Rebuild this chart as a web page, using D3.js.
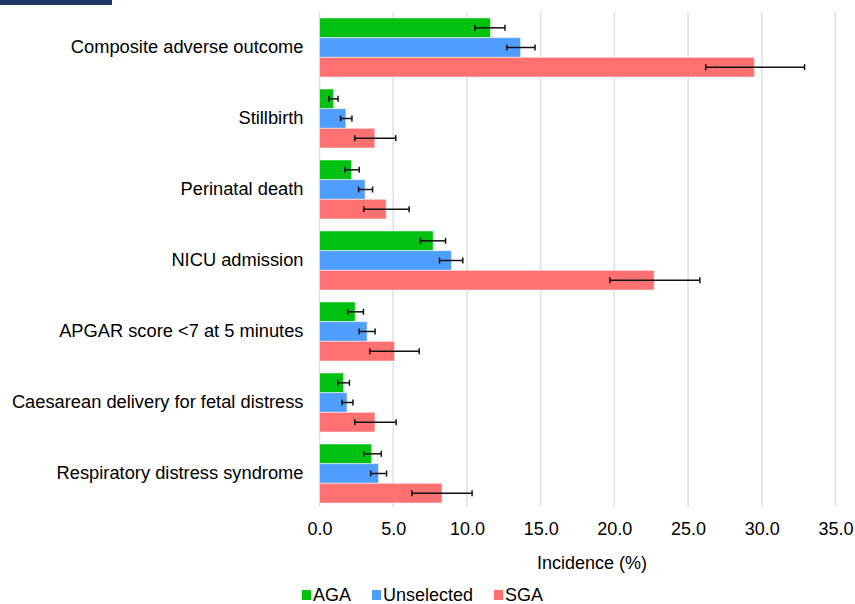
<!DOCTYPE html>
<html>
<head>
<meta charset="utf-8">
<script src="https://cdn.jsdelivr.net/npm/d3@7"></script>
<style>
    body { margin: 0; background: #fff; }
    #chart { display: block; font-family: "Liberation Sans", Arial, Helvetica, sans-serif; }
</style>
</head>
<body>
<svg id="chart"></svg>
<script>
//----------------------------//
//            DATA            //
//----------------------------//
const categories = [
    "Composite adverse outcome",
    "Stillbirth",
    "Perinatal death",
    "NICU admission",
    "APGAR score <7 at 5 minutes",
    "Caesarean delivery for fetal distress",
    "Respiratory distress syndrome"
];
const seriesNames = ["AGA", "Unselected", "SGA"];

const agaValues = [11.6, 0.95, 2.17, 7.71, 2.42, 1.63, 3.54];
const agaLow    = [10.54, 0.63, 1.72, 6.85, 1.92, 1.24, 3.0];
const agaHigh   = [12.58, 1.26, 2.69, 8.55, 2.98, 2.03, 4.19];

const unselValues = [13.64, 1.79, 3.09, 8.95, 3.23, 1.87, 4.0];
const unselLow    = [12.7, 1.43, 2.65, 8.14, 2.69, 1.53, 3.47];
const unselHigh   = [14.62, 2.2, 3.6, 9.72, 3.77, 2.27, 4.55];

const sgaValues = [29.5, 3.75, 4.52, 22.7, 5.09, 3.76, 8.31];
const sgaLow    = [26.2, 2.39, 3.0, 19.7, 3.41, 2.39, 6.27];
const sgaHigh   = [32.9, 5.17, 6.08, 25.8, 6.76, 5.2, 10.35];

const xTicks = [0, 5, 10, 15, 20, 25, 30, 35];
const colors = ["#00c010", "#4f9dff", "#ff7070"];

// --- build rows for d3 ---
const rows = categories.map((c, i) => ({
    category: c,
    bars: [
        { name: seriesNames[0], value: agaValues[i], low: agaLow[i], high: agaHigh[i] },
        { name: seriesNames[1], value: unselValues[i], low: unselLow[i], high: unselHigh[i] },
        { name: seriesNames[2], value: sgaValues[i], low: sgaLow[i], high: sgaHigh[i] }
    ]
}));

// --- Plotting Module ---
function plotChart() {
    const width = 855;
    const height = 604;
    const plot = { left: 319.5, right: 835.5, top: 12, bottom: 509 };

    const svg = d3.select('#chart')
        .attr('width', width)
        .attr('height', height);

    // small header strip in the corner
    svg.append('rect')
        .attr('x', 0).attr('y', 0)
        .attr('width', 112).attr('height', 5)
        .attr('fill', '#1f3864');

    const x = d3.scaleLinear()
        .domain([0, 35])
        .range([plot.left, plot.right]);

    const y = d3.scaleBand()
        .domain(categories)
        .range([plot.top, plot.bottom])
        .paddingInner(0.169)
        .paddingOuter(0.0845);

    const ySeries = d3.scaleBand()
        .domain(seriesNames)
        .range([0, y.bandwidth()]);

    const color = d3.scaleOrdinal().domain(seriesNames).range(colors);

    // gridlines
    svg.append('g')
        .selectAll('line')
        .data(xTicks)
        .enter()
        .append('line')
        .attr('x1', d => x(d)).attr('x2', d => x(d))
        .attr('y1', plot.top).attr('y2', plot.bottom - 2)
        .attr('stroke', '#e0e0e0')
        .attr('stroke-width', 1.5);

    // x axis labels
    const xAxis = svg.append('g')
        .attr('transform', `translate(0,${plot.bottom - 2})`)
        .call(d3.axisBottom(x).tickValues(xTicks).tickFormat(d3.format('.1f')).tickSize(0).tickPadding(15));
    xAxis.select('.domain').remove();
    xAxis.selectAll('text')
        .attr('fill', '#000')
        .style('font-size', '18px')
        .style('font-family', '"Liberation Sans", Arial, sans-serif');

    // y axis labels
    const yAxis = svg.append('g')
        .attr('transform', `translate(${plot.left - 16},0)`)
        .call(d3.axisLeft(y).tickSize(0).tickPadding(0));
    yAxis.select('.domain').remove();
    yAxis.selectAll('text')
        .attr('fill', '#000')
        .style('font-size', '18.3px')
        .style('font-family', '"Liberation Sans", Arial, sans-serif');

    // bars
    const groups = svg.append('g')
        .selectAll('g')
        .data(rows)
        .enter()
        .append('g')
        .attr('transform', d => `translate(0,${y(d.category)})`);

    groups.selectAll('rect')
        .data(d => d.bars)
        .enter()
        .append('rect')
        .attr('x', x(0))
        .attr('y', d => ySeries(d.name))
        .attr('width', d => x(d.value) - x(0))
        .attr('height', ySeries.bandwidth())
        .attr('fill', d => color(d.name))
        .attr('stroke', '#ffffff')
        .attr('stroke-opacity', 0.5)
        .attr('stroke-width', 1);

    // error bars
    const err = groups.selectAll('g.err')
        .data(d => d.bars)
        .enter()
        .append('g')
        .attr('class', 'err')
        .attr('transform', d => `translate(0,${ySeries(d.name) + ySeries.bandwidth() / 2})`);

    err.append('line')
        .attr('x1', d => x(d.low)).attr('x2', d => x(d.high))
        .attr('y1', 0).attr('y2', 0)
        .attr('stroke', '#111').attr('stroke-width', 1.5);

    err.selectAll('line.cap')
        .data(d => [d.low, d.high])
        .enter()
        .append('line')
        .attr('class', 'cap')
        .attr('x1', d => x(d)).attr('x2', d => x(d))
        .attr('y1', -3).attr('y2', 3)
        .attr('stroke', '#111').attr('stroke-width', 1.5);

    // axis title
    svg.append('text')
        .attr('x', 592)
        .attr('y', 569)
        .attr('text-anchor', 'middle')
        .style('font-size', '18px')
        .attr('fill', '#000')
        .text('Incidence (%)');

    // legend
    const legendX = [302, 372, 494];
    const legend = svg.append('g')
        .selectAll('g')
        .data(seriesNames)
        .enter()
        .append('g')
        .attr('transform', (d, i) => `translate(${legendX[i]},590)`);

    legend.append('rect')
        .attr('width', 9).attr('height', 10)
        .attr('fill', d => color(d));

    legend.append('text')
        .attr('x', 11)
        .attr('y', 11)
        .style('font-size', '18px')
        .attr('fill', '#000')
        .text(d => d);
}

// --- Main Execution ---
plotChart();
</script>
</body>
</html>
